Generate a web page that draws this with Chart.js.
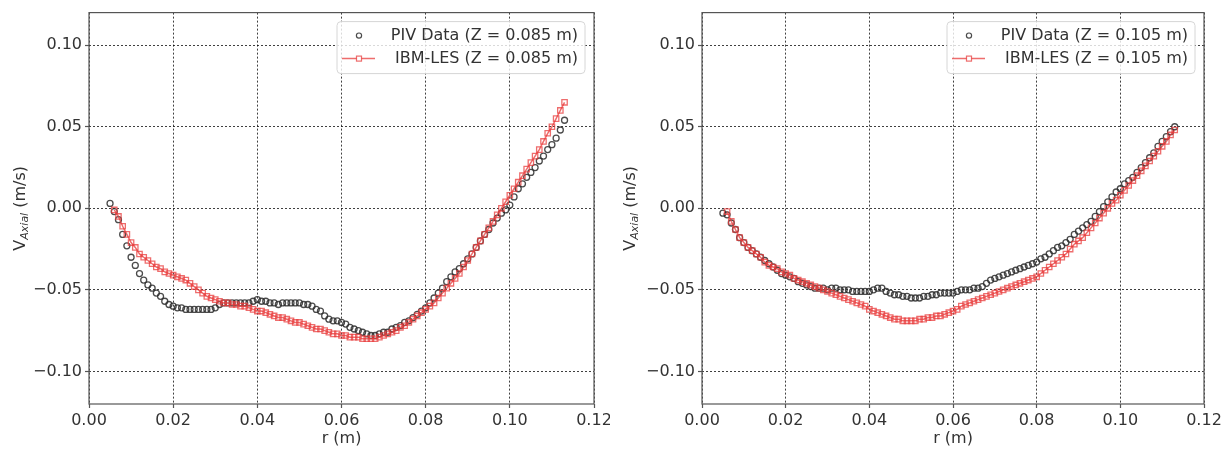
<!DOCTYPE html>
<html>
<head>
<meta charset="utf-8">
<script src="https://cdn.jsdelivr.net/npm/chart.js@4.4.1/dist/chart.umd.min.js"></script>
<style>
body{margin:0;background:#fff;width:1225px;height:449px;overflow:hidden;position:relative}
#izq{position:absolute;left:0;top:0}
#der{position:absolute;left:610px;top:0;background:#fff}
</style>
</head>
<body>
<canvas id="izq" width="620" height="449"></canvas>
<canvas id="der" width="615" height="449"></canvas>
<script>
// radios (m), misma malla para las cuatro series
var radios = [
  0.005,0.006,0.007,0.008,0.009,0.010,0.011,0.012,0.013,0.014,
  0.015,0.016,0.017,0.018,0.019,0.020,0.021,0.022,0.023,0.024,
  0.025,0.026,0.027,0.028,0.029,0.030,0.031,0.032,0.033,0.034,
  0.035,0.036,0.037,0.038,0.039,0.040,0.041,0.042,0.043,0.044,
  0.045,0.046,0.047,0.048,0.049,0.050,0.051,0.052,0.053,0.054,
  0.055,0.056,0.057,0.058,0.059,0.060,0.061,0.062,0.063,0.064,
  0.065,0.066,0.067,0.068,0.069,0.070,0.071,0.072,0.073,0.074,
  0.075,0.076,0.077,0.078,0.079,0.080,0.081,0.082,0.083,0.084,
  0.085,0.086,0.087,0.088,0.089,0.090,0.091,0.092,0.093,0.094,
  0.095,0.096,0.097,0.098,0.099,0.100,0.101,0.102,0.103,0.104,
  0.105,0.106,0.107,0.108,0.109,0.110,0.111,0.112,0.113
];

// Z = 0.085 m
var pivIzq = [
  0.003,-0.002,-0.007,-0.016,-0.023,-0.030,-0.035,-0.040,-0.044,-0.047,
  -0.049,-0.052,-0.054,-0.057,-0.059,-0.060,-0.061,-0.061,-0.062,-0.062,
  -0.062,-0.062,-0.062,-0.062,-0.062,-0.061,-0.059,-0.058,-0.058,-0.058,
  -0.058,-0.058,-0.058,-0.058,-0.057,-0.056,-0.057,-0.057,-0.058,-0.058,
  -0.059,-0.058,-0.058,-0.058,-0.058,-0.058,-0.059,-0.059,-0.060,-0.062,
  -0.063,-0.066,-0.068,-0.069,-0.069,-0.070,-0.071,-0.073,-0.074,-0.075,
  -0.076,-0.077,-0.078,-0.078,-0.077,-0.076,-0.076,-0.074,-0.073,-0.072,
  -0.070,-0.069,-0.067,-0.065,-0.063,-0.061,-0.058,-0.055,-0.052,-0.049,
  -0.045,-0.042,-0.039,-0.037,-0.034,-0.031,-0.028,-0.024,-0.020,-0.016,
  -0.013,-0.009,-0.006,-0.003,-0.001,0.002,0.007,0.012,0.015,0.019,
  0.022,0.025,0.029,0.032,0.036,0.039,0.043,0.048,0.054
];
var lesIzq = [
  null,-0.001,-0.005,-0.011,-0.016,-0.021,-0.024,-0.028,-0.030,-0.032,
  -0.034,-0.036,-0.037,-0.039,-0.040,-0.041,-0.042,-0.043,-0.044,-0.046,
  -0.048,-0.050,-0.052,-0.054,-0.055,-0.056,-0.057,-0.058,-0.058,-0.059,
  -0.059,-0.060,-0.060,-0.061,-0.062,-0.063,-0.063,-0.064,-0.065,-0.066,
  -0.067,-0.067,-0.068,-0.069,-0.070,-0.070,-0.071,-0.072,-0.073,-0.074,
  -0.074,-0.075,-0.076,-0.077,-0.077,-0.078,-0.078,-0.079,-0.079,-0.079,
  -0.080,-0.080,-0.080,-0.080,-0.079,-0.078,-0.077,-0.076,-0.075,-0.073,
  -0.072,-0.070,-0.068,-0.066,-0.064,-0.062,-0.060,-0.058,-0.055,-0.052,
  -0.049,-0.046,-0.043,-0.040,-0.036,-0.032,-0.028,-0.024,-0.020,-0.016,
  -0.012,-0.008,-0.004,0.000,0.004,0.008,0.012,0.016,0.020,0.024,
  0.028,0.032,0.036,0.041,0.046,0.050,0.055,0.060,0.065
];

// Z = 0.105 m
var pivDer = [
  -0.003,-0.004,-0.009,-0.013,-0.018,-0.021,-0.024,-0.026,-0.028,-0.030,
  -0.032,-0.034,-0.036,-0.038,-0.040,-0.041,-0.042,-0.043,-0.045,-0.046,
  -0.047,-0.048,-0.049,-0.049,-0.049,-0.050,-0.049,-0.049,-0.050,-0.050,
  -0.050,-0.051,-0.051,-0.051,-0.051,-0.051,-0.050,-0.049,-0.049,-0.051,
  -0.052,-0.053,-0.053,-0.054,-0.054,-0.055,-0.055,-0.055,-0.054,-0.054,
  -0.053,-0.053,-0.052,-0.052,-0.052,-0.052,-0.051,-0.050,-0.050,-0.050,
  -0.049,-0.049,-0.048,-0.046,-0.044,-0.043,-0.042,-0.041,-0.040,-0.039,
  -0.038,-0.037,-0.036,-0.035,-0.034,-0.033,-0.031,-0.030,-0.028,-0.026,
  -0.024,-0.023,-0.021,-0.019,-0.016,-0.014,-0.012,-0.010,-0.008,-0.005,
  -0.002,0.001,0.004,0.007,0.010,0.012,0.015,0.017,0.019,0.022,
  0.025,0.028,0.031,0.034,0.038,0.041,0.044,0.047,0.050
];
var lesDer = [
  null,-0.002,-0.008,-0.013,-0.018,-0.021,-0.024,-0.026,-0.028,-0.030,
  -0.033,-0.035,-0.036,-0.037,-0.039,-0.040,-0.041,-0.043,-0.044,-0.045,
  -0.046,-0.047,-0.048,-0.049,-0.050,-0.051,-0.052,-0.053,-0.054,-0.055,
  -0.056,-0.057,-0.058,-0.059,-0.060,-0.062,-0.063,-0.064,-0.065,-0.066,
  -0.067,-0.068,-0.068,-0.069,-0.069,-0.069,-0.069,-0.068,-0.068,-0.067,
  -0.067,-0.066,-0.066,-0.065,-0.064,-0.063,-0.062,-0.060,-0.059,-0.058,
  -0.057,-0.056,-0.055,-0.054,-0.053,-0.052,-0.051,-0.050,-0.049,-0.048,
  -0.047,-0.046,-0.045,-0.044,-0.043,-0.042,-0.040,-0.038,-0.036,-0.034,
  -0.032,-0.030,-0.028,-0.025,-0.022,-0.020,-0.018,-0.015,-0.012,-0.009,
  -0.006,-0.003,0.000,0.003,0.005,0.008,0.011,0.014,0.017,0.020,
  0.023,0.026,0.029,0.032,0.035,0.038,0.041,0.045,0.048
];

var xTicks = [0.00, 0.02, 0.04, 0.06, 0.08, 0.10, 0.12];
var yTicks = [-0.10, -0.05, 0.00, 0.05, 0.10];

var etiquetasIzq = ['PIV Data (Z = 0.085 m)', 'IBM-LES (Z = 0.085 m)'];
var etiquetasDer = ['PIV Data (Z = 0.105 m)', 'IBM-LES (Z = 0.105 m)'];

var fuente = 'DejaVu Sans';
var colorTexto = '#333';
var colorPIV = 'rgba(45,45,45,0.85)';
var colorLES = 'rgba(232,60,60,0.75)';


function armarPuntos(rs, vs){
  var p = [];
  for (var i = 0; i < rs.length; i++){
    if (vs[i] !== null) p.push({x: rs[i], y: vs[i]});
  }
  return p;
}

function fmt(v){
  var s = Math.abs(v) < 1e-9 ? '0.00' : Number(v).toFixed(2);
  return s.replace('-', '\u2212');
}

// borde, titulo del eje y (con subindice) y leyenda tipo matplotlib
var marco = {
  id: 'marco',
  afterDraw: function(chart, args, opts){
    var a = chart.chartArea;
    var ctx = chart.ctx;
    ctx.save();

    ctx.strokeStyle = '#555';
    ctx.lineWidth = 1.2;
    ctx.strokeRect(a.left, a.top, a.right - a.left, a.bottom - a.top);

    // V_Axial (m/s)
    ctx.fillStyle = colorTexto;
    ctx.textBaseline = 'middle';
    ctx.textAlign = 'left';
    var f1 = '16px "' + fuente + '"';
    var f2 = 'italic 11px "' + fuente + '"';
    ctx.font = f1; var w1 = ctx.measureText('V').width; var w3 = ctx.measureText(' (m/s)').width;
    ctx.font = f2; var w2 = ctx.measureText('Axial').width;
    var total = w1 + w2 + w3;
    ctx.translate(opts.tituloX, (a.top + a.bottom) / 2);
    ctx.rotate(-Math.PI / 2);
    var x0 = -total / 2;
    ctx.font = f1; ctx.fillText('V', x0, 0);
    ctx.font = f2; ctx.fillText('Axial', x0 + w1, 4);
    ctx.font = f1; ctx.fillText(' (m/s)', x0 + w1 + w2, 0);
    ctx.setTransform(1, 0, 0, 1, 0, 0);

    // leyenda
    var bw = 248, bh = 52;
    var bx = a.right - 9 - bw, by = a.top + 9;
    ctx.beginPath();
    ctx.roundRect(bx, by, bw, bh, 4);
    ctx.fillStyle = 'rgba(255,255,255,0.8)';
    ctx.fill();
    ctx.strokeStyle = '#d6d6d6';
    ctx.lineWidth = 1;
    ctx.stroke();

    var y1 = by + 14, y2 = by + 37, mx = bx + 22;
    ctx.beginPath();
    ctx.arc(mx, y1, 2.6, 0, Math.PI * 2);
    ctx.strokeStyle = colorPIV;
    ctx.lineWidth = 1.2;
    ctx.stroke();

    ctx.beginPath();
    ctx.moveTo(bx + 5, y2); ctx.lineTo(bx + 38, y2);
    ctx.strokeStyle = colorLES;
    ctx.lineWidth = 1.5;
    ctx.stroke();
    ctx.fillStyle = '#fff';
    ctx.fillRect(mx - 2.5, y2 - 2.5, 5, 5);
    ctx.lineWidth = 1.2;
    ctx.strokeRect(mx - 2.5, y2 - 2.5, 5, 5);

    ctx.fillStyle = colorTexto;
    ctx.font = '16px "' + fuente + '"';
    ctx.textAlign = 'right';
    ctx.fillText(opts.etiquetas[0], bx + bw - 7, y1);
    ctx.fillText(opts.etiquetas[1], bx + bw - 7, y2);

    ctx.restore();
  }
};


function graficar(idCanvas, piv, les, etiquetas, anchoY, padTop, padRight){
  var grid = {
    color: 'rgba(0,0,0,0.75)',
    lineWidth: 1,
    tickLength: 4,
    tickColor: '#555',
    tickWidth: 1.2,
    tickBorderDash: []
  };
  var ctx = document.getElementById(idCanvas).getContext('2d');
  return new Chart(ctx, {
    type: 'scatter',
    data: {
      datasets: [
        {
          label: etiquetas[0],
          data: armarPuntos(radios, piv),
          showLine: false,
          pointStyle: 'circle',
          pointRadius: 3,
          pointBorderWidth: 1.3,
          pointBorderColor: colorPIV,
          pointBackgroundColor: 'rgba(0,0,0,0)',
          order: 2
        },
        {
          label: etiquetas[1],
          data: armarPuntos(radios, les),
          showLine: true,
          borderColor: colorLES,
          borderWidth: 1.5,
          pointStyle: 'rect',
          pointRadius: 3.8,
          pointBorderWidth: 1.3,
          pointBorderColor: colorLES,
          pointBackgroundColor: 'rgba(0,0,0,0)',
          order: 1
        }
      ]
    },
    options: {
      responsive: false,
      animation: false,
      layout: {padding: {left: 0, top: padTop, right: padRight, bottom: 0}},
      plugins: {
        legend: {display: false},
        tooltip: {enabled: false},
        marco: {etiquetas: etiquetas, tituloX: 21}
      },
      scales: {
        x: {
          type: 'linear', min: 0, max: 0.12,
          afterBuildTicks: function(ax){ ax.ticks = xTicks.map(function(v){ return {value: v}; }); },
          afterFit: function(ax){ ax.height = 45; },
          ticks: {callback: function(v){ return fmt(v); }, font: {family: fuente, size: 16}, color: colorTexto, padding: 3, maxRotation: 0, autoSkip: false},
          title: {display: true, text: 'r (m)', font: {family: fuente, size: 16}, color: colorTexto, padding: {top: 0, bottom: 1}},
          grid: grid,
          border: {display: false, dash: [2, 2]}
        },
        y: {
          type: 'linear', min: -0.12, max: 0.12,
          afterBuildTicks: function(ax){ ax.ticks = yTicks.map(function(v){ return {value: v}; }); },
          afterFit: function(ax){ ax.width = anchoY; },
          ticks: {callback: function(v){ return fmt(v); }, font: {family: fuente, size: 16}, color: colorTexto, padding: 3, autoSkip: false},
          grid: grid,
          border: {display: false, dash: [2, 2]}
        }
      }
    },
    plugins: [marco]
  });
}

var graficaIzq = graficar('izq', pivIzq, lesIzq, etiquetasIzq, 89, 9, 26);
var graficaDer = graficar('der', pivDer, lesDer, etiquetasDer, 92, 12, 21);
</script>
</body>
</html>
